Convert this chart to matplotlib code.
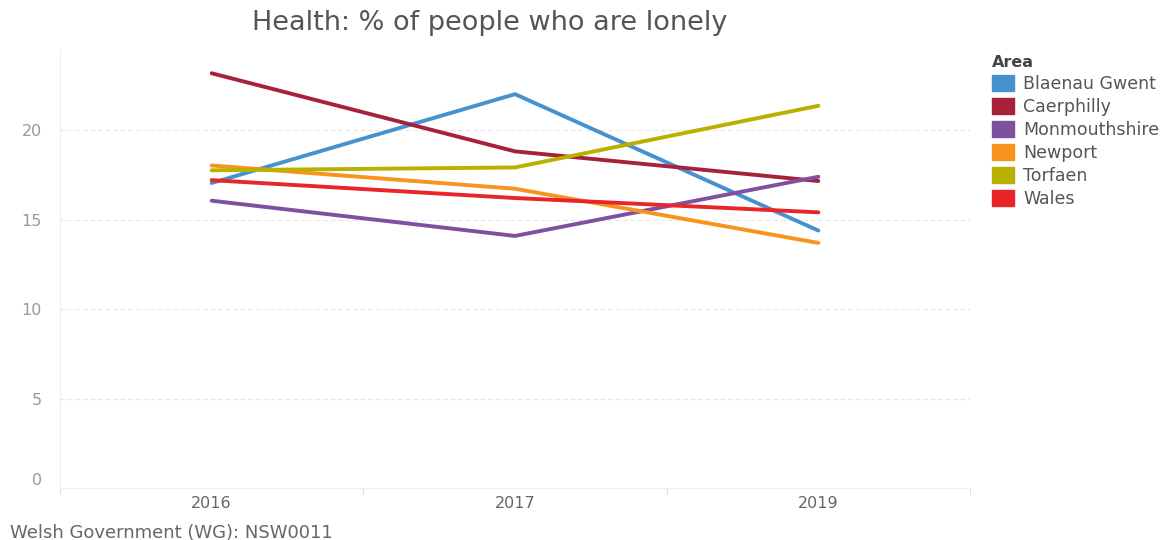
import matplotlib
matplotlib.use("Agg")
import matplotlib.pyplot as plt
from matplotlib.patches import Patch

years = ["2016", "2017", "2019"]
areas = ["Blaenau Gwent", "Caerphilly", "Monmouthshire", "Newport", "Torfaen", "Wales"]
blaenau_gwent = [17.06, 22.03, 14.40]
caerphilly = [23.2, 18.83, 17.17]
monmouthshire = [16.07, 14.10, 17.41]
newport = [18.04, 16.74, 13.71]
torfaen = [17.77, 17.93, 21.38]
wales = [17.22, 16.22, 15.42]
series = [blaenau_gwent, caerphilly, monmouthshire, newport, torfaen, wales]
colors = ["#4592CF", "#A8213B", "#7E50A0", "#F7941D", "#B9B000", "#E8262A"]
yticks = [0, 5, 10, 15, 20]

plt.rcParams['font.family'] = ['DejaVu Sans']
fig = plt.figure(figsize=(11.68, 5.4), dpi=100)
ax = fig.add_axes([60/1168, 1-488/540, 910/1168, 438/540])

x = list(range(len(years)))
for vals, c in zip(series, colors):
    ax.plot(x, vals, color=c, lw=2.8, solid_capstyle='round', zorder=3)

ax.set_xlim(-0.5, len(years)-0.5)
ax.set_ylim(0, 24.5)
ax.set_yticks(yticks)
ax.set_yticklabels([str(v) for v in yticks])
for v in yticks[1:]:
    ax.axhline(v, color="#e8e8e8", lw=0.9, ls=(0, (4, 2)), zorder=1)
ax.set_xticks(x)
ax.set_xticklabels(years)
ax.set_xticks([-0.5, 0.5, 1.5, 2.5], minor=True)
ax.tick_params(axis='x', which='major', length=0, pad=6, labelsize=11.5, labelcolor="#666666")
ax.tick_params(axis='x', which='minor', length=5, color="#e0e0e0", width=0.8)
ax.tick_params(axis='y', length=0, pad=13, labelsize=11.5, labelcolor="#999999")
ax.get_yticklabels()[0].set_va('bottom')
for s in ['top', 'right']:
    ax.spines[s].set_visible(False)
ax.spines['left'].set_color("#eeeeee")
ax.spines['bottom'].set_color("#eeeeee")

fig.text(490/1168, 1-23/540, "Health: % of people who are lonely", ha='center', va='center',
         fontsize=19.5, color="#555555")
fig.text(10/1168, 1-533/540, "Welsh Government (WG): NSW0011", ha='left', va='center',
         fontsize=13, color="#666666")

handles = [Patch(facecolor=c, edgecolor=c) for c in colors]
leg = fig.legend(handles, areas, loc='upper left', bbox_to_anchor=(990/1168, 1-53/540),
                 frameon=False, title="Area", alignment='left', fontsize=12.5,
                 handlelength=1.3, handleheight=1.0, handletextpad=0.5, labelspacing=0.29,
                 borderaxespad=0, borderpad=0.1)
leg.get_title().set_fontweight('bold')
leg.get_title().set_fontsize(11.5)
leg.get_title().set_color("#444444")
for t in leg.get_texts():
    t.set_color("#555555")

fig.savefig("out.png", dpi=100)
